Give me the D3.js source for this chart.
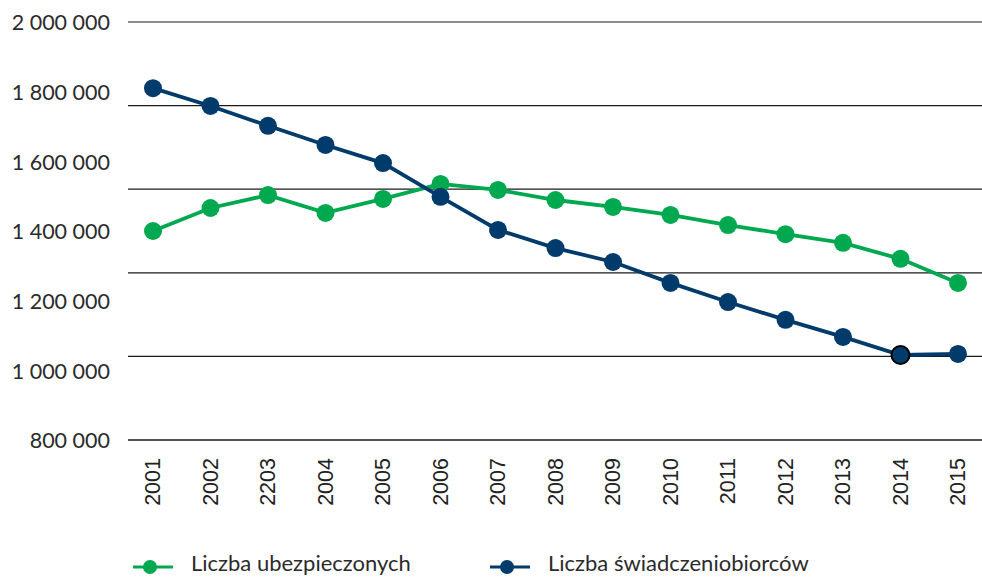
<!DOCTYPE html>
<html>
<head>
<meta charset="utf-8">
<script src="https://cdn.jsdelivr.net/npm/d3@7"></script>
<style>
  body { margin: 0; background: #fff; }
</style>
</head>
<body>
<div id="viz-container"></div>
<script>
// data
let years = ['2001','2002','2203','2004','2005','2006','2007','2008','2009','2010','2011','2012','2013','2014','2015'];
let ubezpieczeni = [1400000,1466000,1503000,1452000,1492000,1535000,1518000,1489000,1469000,1446000,1417000,1391000,1366000,1320000,1251000];
let swiadczeniobiorcy = [1810000,1759000,1702000,1647000,1595000,1498000,1403000,1351000,1311000,1251000,1196000,1145000,1096000,1044000,1047000];
let yTickLabels = [800000,1000000,1200000,1400000,1600000,1800000,2000000];
let gridValues = [800000,1040000,1280000,1520000,1760000,2000000];
let seriesNames = ['Liczba ubezpieczonych','Liczba świadczeniobiorców'];

let green = '#00a84f';
let navy = '#003b6c';

let viz = d3.select('#viz-container')
  .append('svg')
    .attr('width',982)
    .attr('height',578)
;

let x = d3.scalePoint().domain(years).range([153,958]);
let y = d3.scaleLinear().domain([800000,2000000]).range([440,22]);

let fmt = function(v){
  return d3.format(',')(v).replace(/,/g,' ');
};

// gridlines
viz.selectAll('line.grid').data(gridValues).enter()
  .append('line')
    .attr('class','grid')
    .attr('x1',128)
    .attr('x2',982)
    .attr('y1',d => y(d))
    .attr('y2',d => y(d))
    .attr('stroke',d => d == 2000000 ? '#666' : '#1a1a1a')
    .attr('stroke-width',1.3)
;

// y labels
viz.selectAll('text.ylab').data(yTickLabels).enter()
  .append('text')
    .attr('class','ylab')
    .attr('x',110)
    .attr('y',d => y(d))
    .attr('dy','0.38em')
    .attr('text-anchor','end')
    .attr('font-family','Lato')
    .attr('font-size',21.5)
    .attr('fill','#2b2b2b')
    .text(fmt)
;

// x labels
viz.selectAll('text.xlab').data(years).enter()
  .append('text')
    .attr('class','xlab')
    .attr('transform',d => 'translate(' + (x(d)+7) + ',458) rotate(-90)')
    .attr('text-anchor','end')
    .attr('font-family','Liberation Sans')
    .attr('font-size',21.5)
    .attr('fill','#222')
    .text(d => d)
;

function drawSeries(values, color){
  let line = d3.line()
    .x((d,i) => x(years[i]))
    .y(d => y(d));
  viz.append('path')
    .datum(values)
    .attr('d',line)
    .attr('fill','none')
    .attr('stroke',color)
    .attr('stroke-width',3.8)
  ;
  viz.append('g').selectAll('circle').data(values).enter()
    .append('circle')
      .attr('cx',(d,i) => x(years[i]))
      .attr('cy',d => y(d))
      .attr('r',9)
      .attr('fill',color)
  ;
}

drawSeries(ubezpieczeni, green);
drawSeries(swiadczeniobiorcy, navy);

// highlighted 2014 point
viz.append('circle')
  .attr('cx',x('2014'))
  .attr('cy',y(swiadczeniobiorcy[13]))
  .attr('r',9)
  .attr('fill',navy)
  .attr('stroke','#000')
  .attr('stroke-width',2)
;

// legend
let legendX = [133,490];
let legendColors = [green, navy];
seriesNames.forEach(function(name,i){
  let g = viz.append('g').attr('transform','translate(' + legendX[i] + ',567)');
  g.append('line').attr('x1',0).attr('x2',40).attr('y1',0).attr('y2',0)
    .attr('stroke',legendColors[i]).attr('stroke-width',3);
  g.append('circle').attr('cx',17).attr('cy',0).attr('r',7).attr('fill',legendColors[i]);
  g.append('text')
    .attr('x',58)
    .attr('y',4)
    .attr('font-family','Lato')
    .attr('font-size',22)
    .attr('fill','#2b2b2b')
    .text(name);
});
</script>
</body>
</html>
